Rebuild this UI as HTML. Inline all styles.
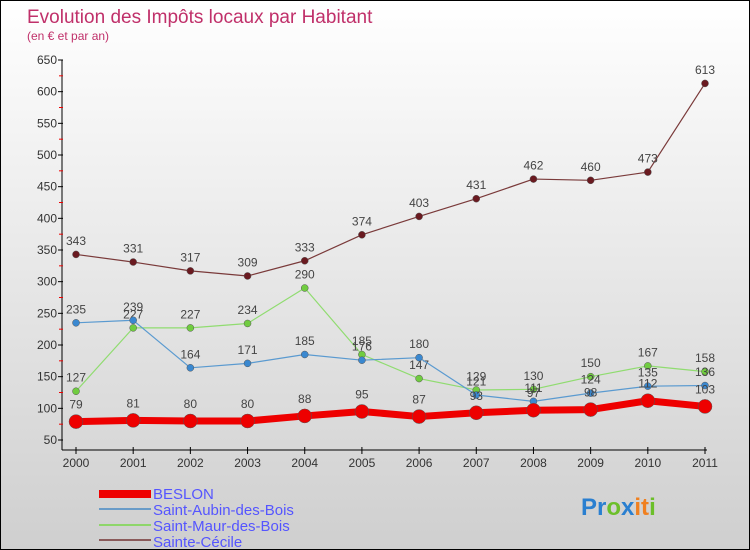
<!DOCTYPE html>
<html><head><meta charset="utf-8"><style>
body{margin:0}
#c{width:748px;height:548px;border:1px solid #000;background:linear-gradient(#ffffff,#cfcfcf);position:relative;overflow:hidden;font-family:"Liberation Sans",sans-serif}
</style></head><body>
<div id="c">
<svg id="s" width="748" height="548" xmlns="http://www.w3.org/2000/svg">
<text x="26" y="22" font-size="19" fill="#c0306a">Evolution des Impôts locaux par Habitant</text>
<text x="26" y="39" font-size="12" fill="#c0306a">(en € et par an)</text>
<g id="axes"></g><g id="series"></g>
<g>
<rect x="98" y="489" width="52" height="8" fill="#ee0000"/>
<line x1="98" y1="508" x2="150" y2="508" stroke="#6a9cc8" stroke-width="2"/>
<line x1="98" y1="524" x2="150" y2="524" stroke="#8ed66a" stroke-width="2"/>
<line x1="98" y1="539" x2="150" y2="539" stroke="#8a5a5a" stroke-width="2"/>
<g font-size="15" fill="#5555ff">
<text x="152" y="498">BESLON</text>
<text x="152" y="514">Saint-Aubin-des-Bois</text>
<text x="152" y="530">Saint-Maur-des-Bois</text>
<text x="152" y="546">Sainte-Cécile</text>
</g></g>
<text x="580" y="514" font-size="24" font-weight="bold"><tspan fill="#2a7fd0">Pr</tspan><tspan fill="#6cbf2a">o</tspan><tspan fill="#2a7fd0">x</tspan><tspan fill="#f08020">it</tspan><tspan fill="#6cbf2a">i</tspan></text>
</svg></div>
<script>
const years=[2000,2001,2002,2003,2004,2005,2006,2007,2008,2009,2010,2011];
const yTicks=[50,100,150,200,250,300,350,400,450,500,550,600,650];
const beslon=[79,81,80,80,88,95,87,93,97,98,112,103];
const aubin=[235,239,164,171,185,176,180,121,111,124,135,136];
const maur=[127,227,227,234,290,185,147,129,130,150,167,158];
const cecile=[343,331,317,309,333,374,403,431,462,460,473,613];
const NS="http://www.w3.org/2000/svg";
const X=i=>75+i*(629/11);
const Y=v=>439-(v-50)*(380/600);
function mk(t,a,p){const e=document.createElementNS(NS,t);for(const k in a)e.setAttribute(k,a[k]);p.appendChild(e);return e;}
const ax=document.getElementById('axes');
let l=mk('line',{x1:61,y1:59,x2:61,y2:449,stroke:'#000'},ax);


l=mk('line',{x1:61,y1:449,x2:706,y2:449,stroke:'#000'},ax);


yTicks.forEach(v=>{
 mk('line',{x1:57,y1:Y(v),x2:62,y2:Y(v),stroke:'#000'},ax);
 if(v<650)mk('line',{x1:58,y1:Y(v+25),x2:62,y2:Y(v+25),stroke:'#e00'},ax);
 const t=mk('text',{x:56,y:Y(v)+4,'font-size':12,fill:'#333','text-anchor':'end'},ax);t.textContent=v;
 
 
});
years.forEach((y,i)=>{
 mk('line',{x1:X(i),y1:446,x2:X(i),y2:453,stroke:'#000'},ax);
 const t=mk('text',{x:X(i),y:466,'font-size':12,fill:'#333','text-anchor':'middle'},ax);t.textContent=y;
 
 
});
const sg=document.getElementById('series');
function series(d,color,w,r,name,dot){
 const g=mk('g',{},sg);
 
 
 const p=mk('polyline',{points:d.map((v,i)=>X(i)+','+Y(v)).join(' '),fill:'none',stroke:color,'stroke-width':w,'stroke-linejoin':'round'},g);
 
 
 d.forEach((v,i)=>{
  const c=mk('circle',{cx:X(i),cy:Y(v),r:r,fill:dot,stroke:'#555','stroke-width':0.5},g);
  
  
  const t=mk('text',{x:X(i),y:Y(v)-(r+6),'font-size':12,fill:'#444','text-anchor':'middle'},g);t.textContent=v;
  
  
 });
}
series(cecile,'#7a3a3a',1.2,3.5,'sainte-cecile','#6a1a20');
series(maur,'#90dc70',1.2,3.5,'saint-maur','#70cc40');
series(aubin,'#5a9ad0',1.2,3.5,'saint-aubin','#3a88d0');
series(beslon,'#ee0000',7,7,'beslon','#ee0000');
</script>
</body></html>
